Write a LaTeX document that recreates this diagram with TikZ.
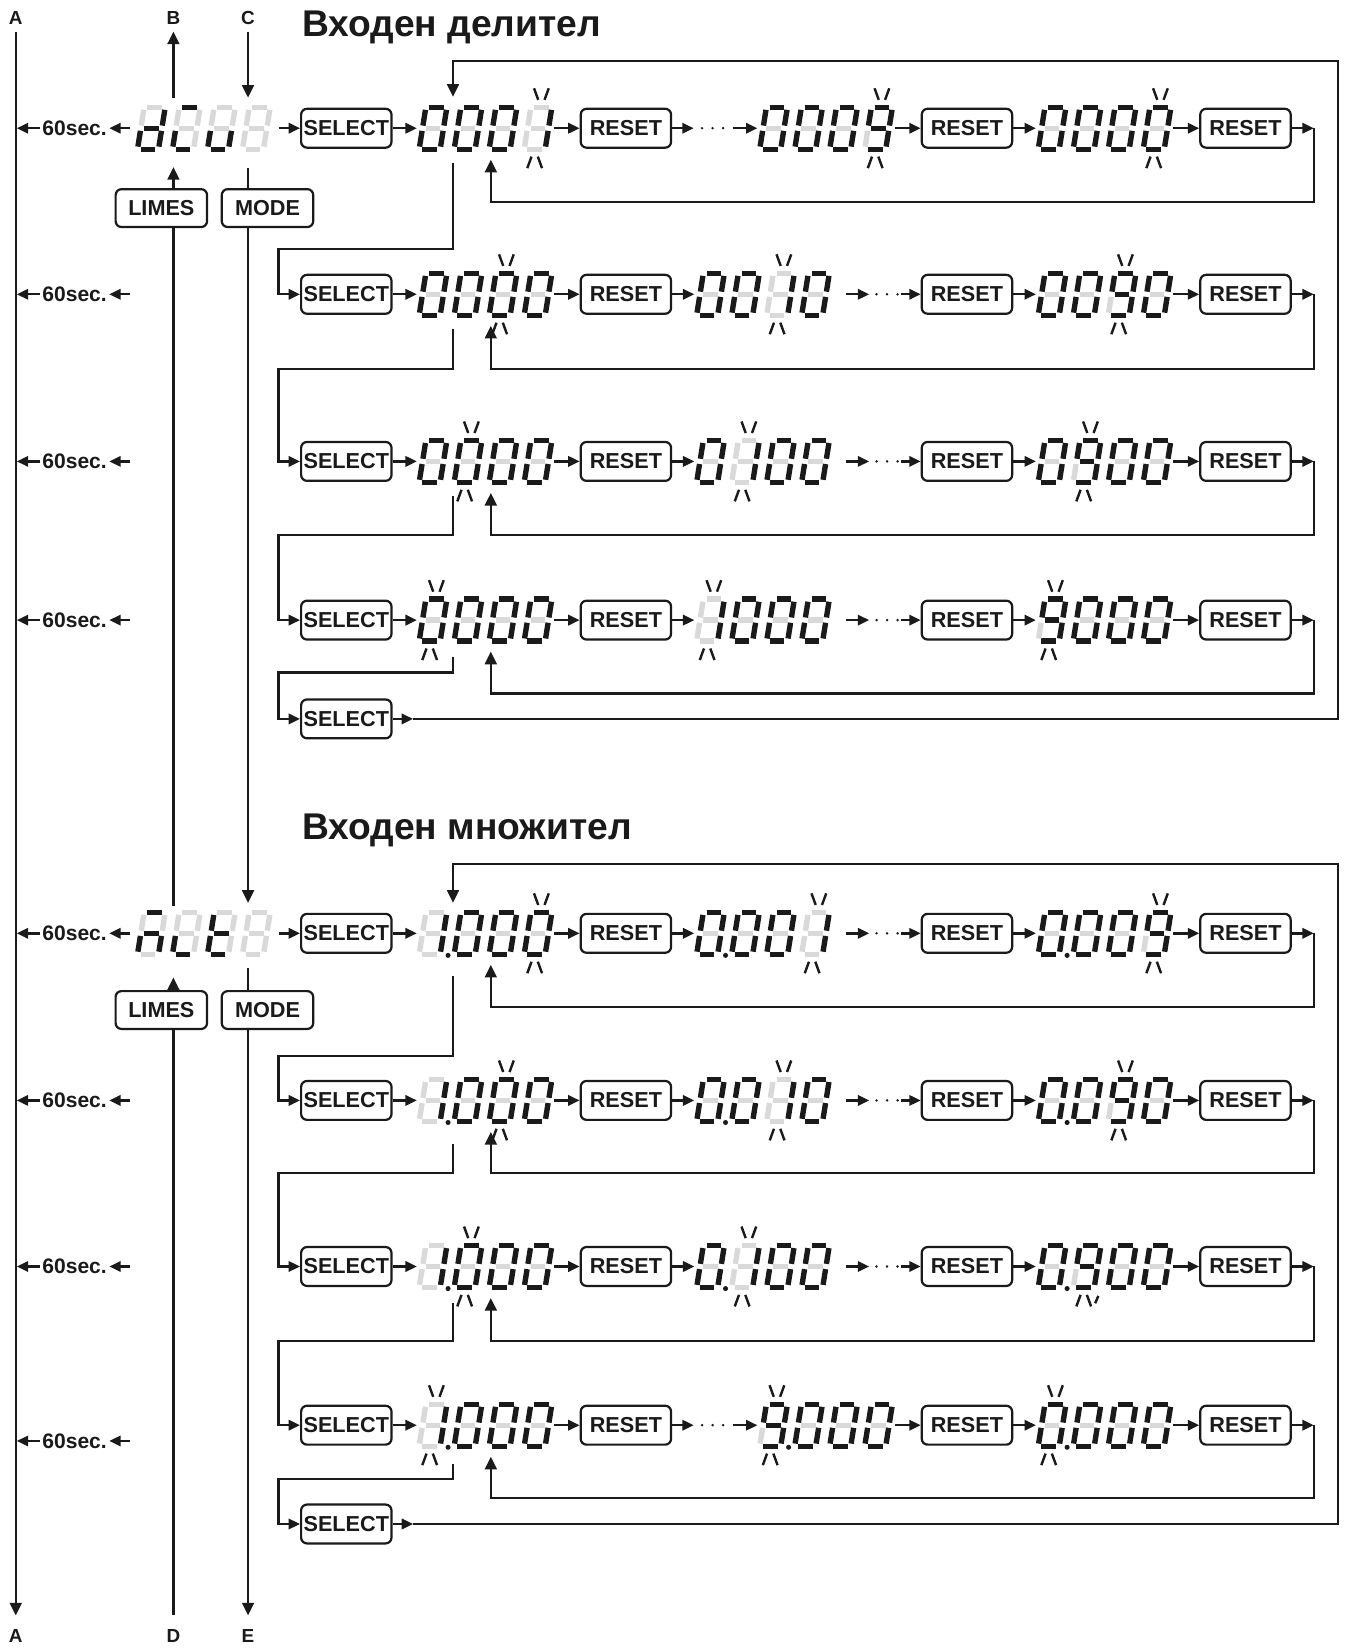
\documentclass[tikz,border=0pt]{standalone}
\usepackage{fontspec}
\setmainfont{Liberation Sans}
\usetikzlibrary{arrows.meta,calc}
\definecolor{ink}{HTML}{1A1A1A}
\definecolor{segg}{HTML}{D9D9D9}

\expandafter\def\csname sp0\endcsname{1111110}
\expandafter\def\csname sp1\endcsname{0110000}
\expandafter\def\csname sp9\endcsname{1111011}
\expandafter\def\csname spd\endcsname{0111101}
\expandafter\def\csname spi\endcsname{1001100}
\expandafter\def\csname spu\endcsname{0011100}
\expandafter\def\csname spA\endcsname{1010101}
\expandafter\def\csname spL\endcsname{0001100}
\expandafter\def\csname spt\endcsname{0001111}
\expandafter\def\csname spx\endcsname{0000000}

\newcommand\segline[3]{\ifnum#1=1 \draw[seg,ink] #2 -- #3;\else\draw[seg,segg] #2 -- #3;\fi}
\def\sevsegparse#1#2#3#4#5#6#7\relax#8#9{%
  \begin{scope}[shift={({#8},{#9})},xslant=0.16]
    \segline{#1}{(-7,-20)}{(7,-20)}%
    \segline{#2}{(10,-17.5)}{(10,-2.5)}%
    \segline{#3}{(10,2.5)}{(10,17.5)}%
    \segline{#4}{(-7,20)}{(7,20)}%
    \segline{#5}{(-10,2.5)}{(-10,17.5)}%
    \segline{#6}{(-10,-17.5)}{(-10,-2.5)}%
    \segline{#7}{(-7,0)}{(7,0)}%
  \end{scope}}
\newcommand\digitat[3]{\expandafter\expandafter\expandafter\sevsegparse\csname sp#3\endcsname\relax{#1}{#2}}
\newcommand\disp[5]{%
  \node[dispn] (#1) at ({#2+64},{#3}) {};
  \def\dispL{#2}\def\dispY{#3}%
  \dispdigits#4\relax
  \ifnum#5=1 \fill[ink] ({#2+28.3},{#3+21}) circle[radius=2.4];\fi}
\def\dispdigits#1#2#3#4\relax{%
  \digitat{\dispL+14}{\dispY}{#1}\digitat{\dispL+47.3}{\dispY}{#2}%
  \digitat{\dispL+80.6}{\dispY}{#3}\digitat{\dispL+113.9}{\dispY}{#4}}
\newcommand\blup[2]{\draw[blk] ({#1-3.8},{#2-38}) -- ({#1+0.2},{#2-27}) ({#1+10.2},{#2-38}) -- ({#1+6.2},{#2-27});}
\newcommand\bldn[2]{\draw[blk] ({#1-6.2},{#2+27}) -- ({#1-10.2},{#2+38}) ({#1-0.2},{#2+27}) -- ({#1+3.8},{#2+38});}
\newcommand\blink[3]{\pgfmathsetmacro\blx{#1+14+33.3*(#3-1)}\blup{\blx}{#2}\bldn{\blx}{#2}}
\newcommand\blinkdn[3]{\pgfmathsetmacro\blx{#1+14+33.3*(#3-1)}\bldn{\blx}{#2}}
\newcommand\threedots[2]{\foreach \q in {0,1,2}{\fill[ink] ({#1+\q*10},{#2}) circle[radius=1.3];}}
\newcommand\secs[2]{%
  \node[secf] (#1) at (71,#2) {60sec.};
  \coordinate (#1l) at (16,#2); \coordinate (#1r) at (124,#2);
  \draw[arr] (#1.west) -- (#1l);
  \draw[arr] (#1r) -- (#1.east);}
% common tail of a row
\newcommand\rowtail[5]{% id, cy, dp, fb y, D2
  \disp{d#1c}{987}{#2}{#5}{#3}
  \draw[arr] (r#1b.east) -- (d#1c.west);
  \node[box] (r#1c) at (1185,#2) {RESET};
  \draw[arr] (d#1c.east) -- (r#1c.west);
  \coordinate (e#1) at (1250,#2); \coordinate (f#1) at (467,{#2+30});
  \draw[arr] (r#1c.east) -- (e#1);
  \draw[barr] (e#1) |- (467,#4) -- (f#1);}
\newcommand\rowB[7]{% id, cy, dp, fb y, D0, D1, D2
  \node[box] (s#1) at (329.5,#2) {SELECT};
  \disp{d#1a}{398}{#2}{#5}{#3}
  \draw[arr] (s#1.east) -- (d#1a.west);
  \node[box] (r#1a) at (595.5,#2) {RESET};
  \draw[arr] (d#1a.east) -- (r#1a.west);
  \disp{d#1b}{662}{#2}{#6}{#3}
  \draw[arr] (r#1a.east) -- (d#1b.west);
  \coordinate (p#1a) at (805,#2); \coordinate (p#1b) at (827,#2); \coordinate (p#1c) at (857,#2);
  \draw[arr] (p#1a) -- (p#1b);
  \threedots{834}{#2}
  \node[box] (r#1b) at (920,#2) {RESET};
  \draw[arr] (p#1c) -- (r#1b.west);
  \rowtail{#1}{#2}{#3}{#4}{#7}}
\newcommand\rowA[7]{% id, cy, dp, fb y, D0, D1, D2
  \node[box] (s#1) at (329.5,#2) {SELECT};
  \disp{d#1a}{398}{#2}{#5}{#3}
  \draw[arr] (s#1.east) -- (d#1a.west);
  \node[box] (r#1a) at (595.5,#2) {RESET};
  \draw[arr] (d#1a.east) -- (r#1a.west);
  \coordinate (p#1a) at (660,#2); \coordinate (p#1b) at (697,#2);
  \draw[arr] (r#1a.east) -- (p#1a);
  \threedots{668}{#2}
  \disp{d#1b}{722}{#2}{#6}{#3}
  \draw[arr] (p#1b) -- (d#1b.west);
  \node[box] (r#1b) at (920,#2) {RESET};
  \draw[arr] (d#1b.east) -- (r#1b.west);
  \rowtail{#1}{#2}{#3}{#4}{#7}}
\newcommand\conn[4]{\coordinate (#1) at (431,#2); \draw[arr] (#1) |- (265,#3) |- (#4.west);}

\begin{document}
\begin{tikzpicture}[x=0.5pt,y=-0.5pt,
  seg/.style={line width=2.55pt,line cap=butt},
  blk/.style={line width=1.15pt,draw=ink},
  ln/.style={line width=1.15pt,draw=ink},
  arr/.style={ln,-{Triangle[length=5.4pt,width=4.9pt]}},
  barr/.style={ln,-{Triangle[length=6pt,width=5.6pt]}},
  box/.style={draw=ink,line width=1.05pt,rounded corners=2.8pt,minimum width=43pt,minimum height=18.5pt,inner sep=0pt,text=ink,font=\bfseries\fontsize{10.3}{12}\selectfont},
  dispn/.style={minimum width=65pt,minimum height=23pt,inner sep=0pt},
  lab/.style={inner sep=0pt,text=ink,font=\bfseries\fontsize{9}{11}\selectfont},
  secf/.style={inner sep=1pt,text=ink,font=\bfseries\fontsize{10}{12}\selectfont},
  title/.style={inner sep=0pt,text=ink,anchor=base west,font=\bfseries\fontsize{17.7}{20}\selectfont}]
\useasboundingbox (0,0) rectangle (1279,1568);
\fill[white] (0,0) rectangle (1279,1568);

% letters
\node[lab] (LA1) at (15,17) {A};
\node[lab] (LB) at (165,17) {B};
\node[lab] (LC) at (236,17) {C};
\node[lab] (LA2) at (15,1557) {A};
\node[lab] (LD) at (165,1557) {D};
\node[lab] (LE) at (236,1557) {E};
\coordinate (xL) at (165,0); \coordinate (xM) at (236,0);

% titles
\node[title] (T1) at (287,35) {Входен делител};
\node[title] (T2) at (287,799) {Входен множител};

% A line
\coordinate (Atop) at (15,30); \coordinate (Abot) at (15,1537);
\draw[barr] (Atop) -- (Abot);

% left displays
\disp{dv}{130}{122}{diux}{0}
\disp{dm}{130}{888}{ALtx}{0}

% B, C
\coordinate (Bs) at (165,93); \coordinate (Be) at (165,30);
\draw[barr] (Bs) -- (Be);
\coordinate (Cs) at (236,30); \coordinate (Ce) at (236,93);
\draw[barr] (Cs) -- (Ce);

% LIMES / MODE upper
\node[box,minimum width=43.5pt,minimum height=18pt] (lim1) at (153.5,198) {LIMES};
\node[box,minimum width=43.5pt,minimum height=18pt] (mod1) at (254.5,198) {MODE};
\coordinate (Lt1) at (165,159); \coordinate (Mt1) at (236,160);
\draw[barr] (lim1.north -| xL) -- (Lt1);
\draw[ln] (Mt1) -- (mod1.north -| xM);
\coordinate (Lb1) at (165,862); \coordinate (Mb1) at (236,859);
\draw[ln] (lim1.south -| xL) -- (Lb1);
\draw[barr] (mod1.south -| xM) -- (Mb1);

% LIMES / MODE lower
\node[box,minimum width=43.5pt,minimum height=18pt] (lim2) at (153.5,961) {LIMES};
\node[box,minimum width=43.5pt,minimum height=18pt] (mod2) at (254.5,961) {MODE};
\coordinate (Lt2) at (165,930); \coordinate (Mt2) at (236,921);
\draw[barr] (lim2.north -| xL) -- (Lt2);
\draw[ln] (Mt2) -- (mod2.north -| xM);
\coordinate (Lb2) at (165,1537); \coordinate (Mb2) at (236,1537);
\draw[ln] (lim2.south -| xL) -- (Lb2);
\draw[barr] (mod2.south -| xM) -- (Mb2);

% 60 sec
\secs{sa}{122}\secs{sb}{280}\secs{sc}{439}\secs{sd}{590}
\secs{se}{888}\secs{sf}{1047}\secs{sg}{1205}\secs{sh}{1371}

% rows upper
\rowA{1}{122}{0}{192}{0001}{0009}{0000}
\draw[arr] ($(dv.east)+(6,0)$) -- (s1.west);
\blink{398}{122}{4}\blink{722}{122}{4}\blink{987}{122}{4}
\rowB{2}{280}{0}{351}{0000}{0010}{0090}
\blink{398}{280}{3}\blink{662}{280}{3}\blink{987}{280}{3}
\rowB{3}{439}{0}{509}{0000}{0100}{0900}
\blink{398}{439}{2}\blink{662}{439}{2}\blink{987}{439}{2}
\rowB{4}{590}{0}{660}{0000}{1000}{9000}
\blink{398}{590}{1}\blink{662}{590}{1}\blink{987}{590}{1}
\node[box] (s5) at (329.5,684) {SELECT};

\conn{j1}{155}{237}{s2}
\conn{j2}{313}{351}{s3}
\conn{j3}{472}{509}{s4}
\conn{j4}{625}{640}{s5}

\coordinate (k5) at (393,684); \coordinate (t5) at (431,92);
\draw[barr] (k5) -| (1273,58) -| (t5);
\draw[arr] (s5.east) -- (k5);

% rows lower
\rowB{6}{888}{1}{958}{1000}{0001}{0009}
\draw[arr] ($(dm.east)+(6,0)$) -- (s6.west);
\blink{398}{888}{4}\blink{662}{888}{4}\blink{987}{888}{4}
\rowB{7}{1047}{1}{1116}{1000}{0010}{0090}
\blink{398}{1047}{3}\blink{662}{1047}{3}\blink{987}{1047}{3}
\rowB{8}{1205}{1}{1276}{1000}{0100}{0900}
\blink{398}{1205}{2}\blink{662}{1205}{2}\blinkdn{987}{1205}{2}
\draw[blk] (1045,1233) -- (1042,1240);
\rowA{9}{1356}{1}{1425}{1000}{9000}{0000}
\blink{398}{1356}{1}\blink{722}{1356}{1}\blink{987}{1356}{1}
\node[box] (s10) at (329.5,1450) {SELECT};

\conn{j6}{929}{1005}{s7}
\conn{j7}{1088}{1116}{s8}
\conn{j8}{1240}{1276}{s9}
\conn{j9}{1393}{1407}{s10}

\coordinate (k10) at (393,1450); \coordinate (t10) at (431,859);
\draw[barr] (k10) -| (1273,822) -| (t10);
\draw[arr] (s10.east) -- (k10);
\end{tikzpicture}
\end{document}
